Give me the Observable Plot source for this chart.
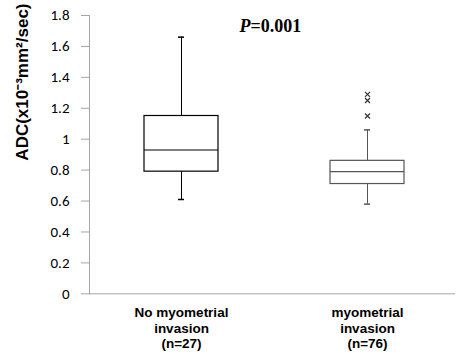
<!DOCTYPE html>
<html>
<head>
<meta charset="utf-8">
<script src="https://cdn.jsdelivr.net/npm/d3@7"></script>
<script src="https://cdn.jsdelivr.net/npm/@observablehq/plot@0.6"></script>
<style>
  html, body { margin: 0; padding: 0; background: #fff; }
</style>
</head>
<body>
<div id="chart"></div>
<script>
const groups = ["No myometrial invasion", "myometrial invasion"];
const labelLine1 = ["No myometrial", "myometrial"];
const labelLine2 = ["invasion", "invasion"];
const labelLine3 = ["(n=27)", "(n=76)"];
const mins = [0.61, 0.58];
const q1s = [0.79, 0.71];
const medians = [0.93, 0.79];
const q3s = [1.15, 0.86];
const maxs = [1.66, 1.06];
const outlierGroup = ["myometrial invasion", "myometrial invasion", "myometrial invasion"];
const outlierValues = [1.29, 1.25, 1.15];
const yTicks = [0, 0.2, 0.4, 0.6, 0.8, 1, 1.2, 1.4, 1.6, 1.8];
const boxColors = ["#000000", "#555555"];

const boxes = groups.map((g, i) => ({
  group: g, min: mins[i], q1: q1s[i], median: medians[i], q3: q3s[i], max: maxs[i],
  color: boxColors[i], label: [labelLine1[i], labelLine2[i], labelLine3[i]].join("\n")
}));
const outliers = outlierValues.map((v, i) => ({group: outlierGroup[i], value: v}));

const axisGray = "#a6a6a6";
const catFont = "'Liberation Sans', Arial, sans-serif";

const chart = Plot.plot({
  width: 457,
  height: 360,
  marginTop: 15,
  marginBottom: 66.7,
  marginLeft: 89,
  marginRight: 2,
  style: {background: "#fff"},
  x: {type: "band", domain: groups, range: [32.4, 516], padding: 0.6, axis: null},
  y: {domain: [0, 1.8], axis: null},
  marks: [
    Plot.frame({anchor: "left", stroke: axisGray}),
    Plot.ruleY([0], {stroke: axisGray}),
    Plot.axisY({
      ticks: yTicks, tickSize: 8, tickPadding: 12,
      tickFormat: d => String(+d.toFixed(1)),
      stroke: axisGray, fill: "#000",
      fontSize: 15, fontFamily: "Carlito, 'Open Sans', 'Liberation Sans', sans-serif",
      label: null
    }),
    // whiskers
    Plot.ruleX(boxes, {x: "group", y1: "q3", y2: "max", stroke: "color", strokeWidth: 1}),
    Plot.ruleX(boxes, {x: "group", y1: "min", y2: "q1", stroke: "color", strokeWidth: 1}),
    // whisker caps
    Plot.tickY(boxes, {x: "group", y: "max", stroke: "color", insetLeft: 34, insetRight: 34, strokeWidth: 1.5}),
    Plot.tickY(boxes, {x: "group", y: "min", stroke: "color", insetLeft: 34, insetRight: 34, strokeWidth: 1.5}),
    // boxes
    Plot.barY(boxes, {x: "group", y1: "q1", y2: "q3", fill: "#fff", stroke: "color", strokeWidth: 1.2}),
    Plot.tickY(boxes, {x: "group", y: "median", stroke: "color", strokeWidth: 1.2}),
    // outliers
    Plot.dot(outliers, {x: "group", y: "value", symbol: "times", r: 2.4, stroke: "#333", strokeWidth: 1.2}),
    // category labels (three lines each)
    Plot.text(boxes, {x: "group", text: "label", frameAnchor: "bottom", lineAnchor: "middle", lineHeight: 1.15,
      dy: 34, fontSize: 13.5, fontWeight: "bold", fontFamily: catFont, fill: "#000"}),
    // y label
    Plot.text(["ADC(x10⁻³mm²/sec)"], {frameAnchor: "left", lineAnchor: "middle", dx: -67, dy: 6, rotate: -90,
      fontSize: 17, fontWeight: "bold", fontFamily: "'Liberation Sans', Arial, sans-serif", fill: "#000"}),
    // P value
    Plot.text(["P"], {frameAnchor: "top", lineAnchor: "middle", dx: -22, dy: 11, textAnchor: "end", fontStyle: "italic",
      fontSize: 18, fontWeight: "bold", fontFamily: "'Liberation Serif', serif", fill: "#000"}),
    Plot.text(["=0.001"], {frameAnchor: "top", lineAnchor: "middle", dx: -22, dy: 11, textAnchor: "start",
      fontSize: 18, fontWeight: "bold", fontFamily: "'Liberation Serif', serif", fill: "#000"})
  ]
});
document.getElementById("chart").appendChild(chart);
</script>
</body>
</html>
